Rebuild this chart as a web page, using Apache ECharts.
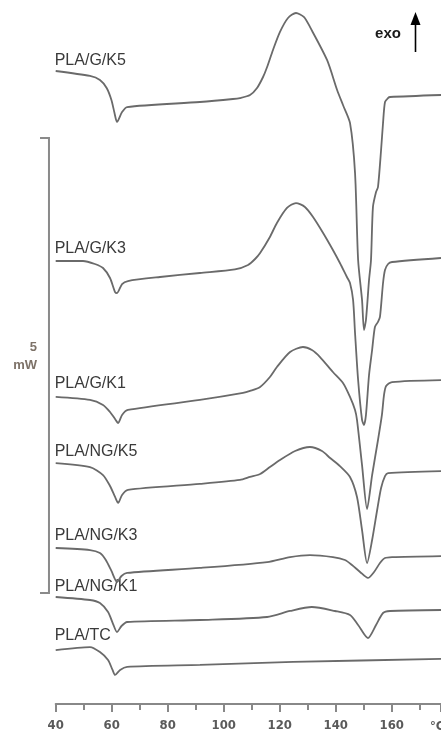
<!DOCTYPE html>
<html><head><meta charset="utf-8">
<script src="https://cdn.jsdelivr.net/npm/echarts@6/dist/echarts.min.js"></script>
<style>html,body{margin:0;padding:0;background:#fff}#c{width:441px;height:733px}</style>
</head><body><div id="c"></div>
<script>
// ---- data (temperature °C, heat flow mW with stacking offset) ----
const xTicks = [40, 60, 80, 100, 120, 140, 160];
const xUnit = '°C';
const curveNames = ['PLA/G/K5', 'PLA/G/K3', 'PLA/G/K1', 'PLA/NG/K5', 'PLA/NG/K3', 'PLA/NG/K1', 'PLA/TC'];

const G_K5 = [[40,6.956],[52.25,6.901],[55.8,6.857],[58.2,6.769],[59.9,6.637],[61.0,6.494],[61.9,6.396],[63.7,6.505],[65.5,6.560],[91.5,6.615],[103.3,6.648],[105.8,6.659],[109.4,6.692],[111.9,6.769],[114.05,6.890],[115.5,7.000],[117.6,7.187],[120.1,7.385],[122.96,7.538],[125.8,7.593],[128.7,7.549],[130.8,7.440],[136.9,7.077],[140.5,6.747],[142.6,6.582],[145.1,6.385],[146.9,5.835],[148.0,4.879],[149.4,4.440],[150.1,4.110],[150.8,4.220],[151.9,4.659],[152.6,4.879],[153.3,5.462],[154.4,5.626],[155.1,5.681],[156.2,6.088],[156.9,6.385],[157.6,6.615],[158.7,6.659],[159.4,6.670],[177.6,6.692]];
const G_K3 = [[40,4.868],[49.75,4.868],[54.0,4.835],[56.9,4.791],[59.4,4.681],[61.2,4.527],[61.9,4.516],[63.7,4.615],[65.8,4.648],[77.25,4.692],[91.5,4.736],[104.0,4.775],[108.7,4.824],[111.2,4.890],[113.0,4.956],[116.5,5.132],[119.0,5.286],[122.6,5.451],[125.8,5.505],[129.0,5.462],[131.9,5.352],[135.5,5.176],[139.0,4.989],[141.5,4.846],[144.0,4.692],[145.1,4.626],[146.2,4.440],[146.9,4.077],[148.0,3.560],[149.4,3.121],[150.1,3.066],[150.8,3.176],[151.9,3.615],[153.0,3.890],[154.0,4.143],[155.1,4.198],[155.8,4.253],[156.9,4.626],[157.6,4.769],[158.7,4.835],[160.1,4.857],[177.6,4.901]];
const G_K1 = [[40,3.374],[52.25,3.341],[56.9,3.286],[59.4,3.209],[61.2,3.132],[62.3,3.088],[63.7,3.176],[65.8,3.231],[91.5,3.341],[106.9,3.418],[109.4,3.440],[113.0,3.484],[116.5,3.593],[119.0,3.703],[123.7,3.868],[128.3,3.923],[131.5,3.890],[134.4,3.813],[139.0,3.648],[142.6,3.527],[145.1,3.374],[146.9,3.231],[147.6,3.121],[149.4,2.626],[151.2,2.143],[153.0,2.516],[155.1,2.901],[156.5,3.176],[157.25,3.396],[158.0,3.495],[160.1,3.538],[177.6,3.560]];
const NG_K5 = [[40,2.648],[52.25,2.604],[56.9,2.516],[59.4,2.396],[61.2,2.275],[62.3,2.209],[63.7,2.297],[65.8,2.352],[91.5,2.418],[105.8,2.462],[109.4,2.495],[113.0,2.527],[116.5,2.604],[120.1,2.681],[125.5,2.780],[130.8,2.824],[135.1,2.780],[138.0,2.703],[141.5,2.615],[145.1,2.495],[147.6,2.275],[149.4,1.912],[151.2,1.549],[153.0,1.802],[154.8,2.132],[156.2,2.374],[157.6,2.505],[158.7,2.538],[177.6,2.560]];
const NG_K3 = [[40,1.714],[52.25,1.692],[55.8,1.659],[57.9,1.582],[59.9,1.462],[61.9,1.341],[63.5,1.407],[65.5,1.440],[91.5,1.495],[115.5,1.560],[123.7,1.615],[130.8,1.637],[139.0,1.615],[143.3,1.582],[145.8,1.527],[148.7,1.451],[151.5,1.385],[153.7,1.451],[155.8,1.549],[157.6,1.604],[160.1,1.615],[177.6,1.626]];
const NG_K1 = [[40,1.176],[52.25,1.143],[55.8,1.110],[58.7,1.011],[60.5,0.879],[61.9,0.791],[63.5,0.857],[65.5,0.901],[91.5,0.923],[115.5,0.956],[123.7,1.022],[131.5,1.066],[139.75,1.022],[145.1,0.978],[148.0,0.868],[151.5,0.725],[154.4,0.868],[156.9,1.000],[159.4,1.022],[177.6,1.033]];
const TC = [[40,0.593],[52.25,0.626],[55.8,0.571],[58.7,0.484],[60.3,0.374],[61.2,0.319],[63.0,0.374],[65.5,0.407],[91.5,0.429],[124.8,0.462],[177.6,0.495]];

const curves = [G_K5, G_K3, G_K1, NG_K5, NG_K3, NG_K1, TC];
const labelLevels = [7.07, 5.00, 3.52, 2.77, 1.85, 1.29, 0.75]; // mW, label centre heights
const scaleBarBottom = 1.22;   // mW
const scaleBarSpan = 5;        // mW
const scaleBarText = ['5', 'mW'];
const exoText = 'exo';

// ---- chart ----
const chart = echarts.init(document.getElementById('c'), null, {renderer: 'canvas'});
const curveColor = '#6a6a6a';
const series = curves.map((d, i) => ({
  name: curveNames[i], type: 'line', data: d, showSymbol: false, symbol: 'none',
  smooth: 0.25, lineStyle: {color: curveColor, width: 1.8}, z: 3, silent: true
}));

chart.setOption({
  animation: false,
  backgroundColor: '#fff',
  grid: {left: 55.7, right: 0, top: 0, bottom: 29},
  xAxis: {
    type: 'value', min: 40, max: 177.6, interval: 20,
    axisLine: {show: true, lineStyle: {color: '#888', width: 2}},
    axisTick: {show: true, length: 8, lineStyle: {color: '#888', width: 2}},
    minorTick: {show: true, splitNumber: 2, length: 6, lineStyle: {color: '#888', width: 2}},
    splitLine: {show: false},
    axisLabel: {
      margin: 15, color: '#5a5a5a', fontWeight: 'bold', fontSize: 13,
      fontFamily: "'Liberation Sans Narrow', 'DejaVu Sans Condensed', 'Liberation Sans', sans-serif",
      showMaxLabel: false,
      formatter: v => (xTicks.indexOf(v) >= 0 ? String(v) : '')
    }
  },
  yAxis: {type: 'value', min: 0, max: 7.736, show: false},
  series: series
});

function px(p) { return chart.convertToPixel({xAxisIndex: 0, yAxisIndex: 0}, p); }
const graphics = [];
curveNames.forEach((n, i) => {
  const p = px([40, labelLevels[i]]);
  graphics.push({type: 'text', x: p[0] - 1, y: p[1], style: {
    text: n, fill: '#3a3a3a', font: "16px 'Liberation Sans', Arial, sans-serif",
    textAlign: 'left', textVerticalAlign: 'middle'}});
});
// 5 mW scale bar, built from its data span
const barTop = px([37.6, scaleBarBottom + scaleBarSpan]);
const barBot = px([37.6, scaleBarBottom]);
const barTickX = px([34.4, 0])[0];
graphics.push({type: 'polyline', shape: {points: [[barTickX, barTop[1]], [barTop[0], barTop[1]], [barBot[0], barBot[1]], [barTickX, barBot[1]]]},
  style: {stroke: '#8a8a8a', lineWidth: 2, fill: null}});
const midBar = px([37.6, scaleBarBottom + scaleBarSpan / 2]);
graphics.push({type: 'text', x: 37, y: midBar[1] - 18, style: {text: scaleBarText[0], fill: '#7d7268',
  font: "bold 13px 'Liberation Sans', Arial, sans-serif", textAlign: 'right', textVerticalAlign: 'middle'}});
graphics.push({type: 'text', x: 37, y: midBar[1], style: {text: scaleBarText[1], fill: '#7d7268',
  font: "bold 13px 'Liberation Sans', Arial, sans-serif", textAlign: 'right', textVerticalAlign: 'middle'}});
const axisY = px([40, 0])[1];
graphics.push({type: 'text', x: 430, y: axisY + 23, style: {text: xUnit, fill: '#5a5a5a',
  font: "bold 13px 'Liberation Sans Narrow', 'DejaVu Sans Condensed', sans-serif", textAlign: 'left', textVerticalAlign: 'middle'}});
graphics.push({type: 'text', x: 388, y: 34, style: {text: exoText, fill: '#1a1a1a',
  font: "bold 15px 'Liberation Sans', Arial, sans-serif", textAlign: 'center', textVerticalAlign: 'middle'}});
graphics.push({type: 'line', shape: {x1: 415.5, y1: 52, x2: 415.5, y2: 22}, style: {stroke: '#000', lineWidth: 1.6}});
graphics.push({type: 'polygon', shape: {points: [[410.5, 25], [420.5, 25], [415.5, 12]]}, style: {fill: '#000'}});
chart.setOption({graphic: graphics});
</script></body></html>
